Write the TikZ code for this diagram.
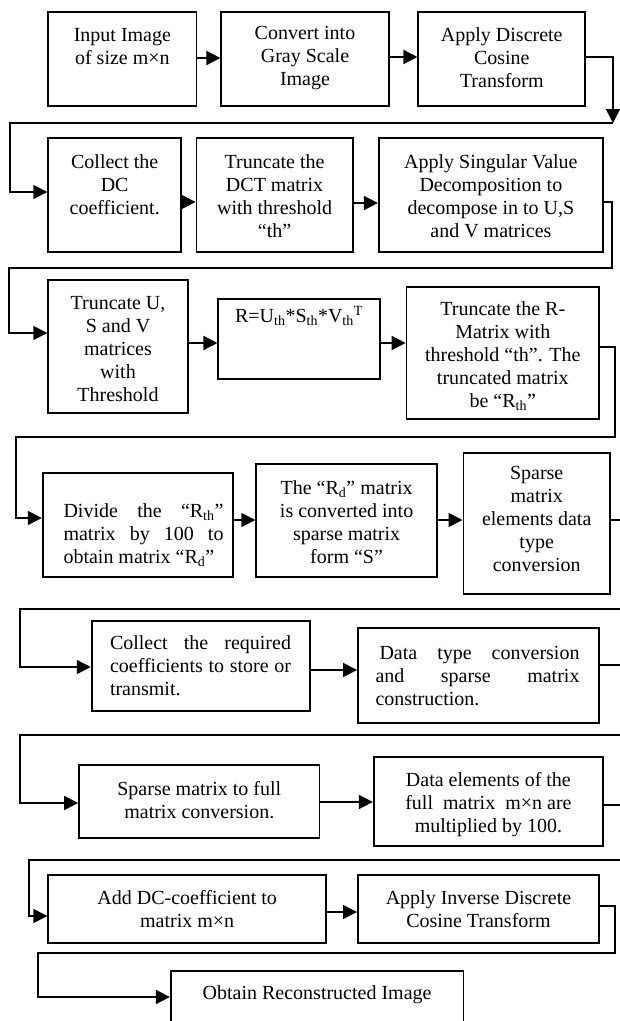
\documentclass[tikz,border=0pt]{standalone}
\usepackage{fontspec}
\setmainfont{Liberation Serif}
\usetikzlibrary{arrows.meta}
\newcommand\nohyph{\hyphenpenalty=10000 \exhyphenpenalty=10000 }
\begin{document}
\begin{tikzpicture}[x=1pt,y=-1pt,
  box/.style={draw, line width=1.8pt, inner sep=0pt},
  txt/.style={inner sep=0pt, align=center, font={\fontsize{20}{23}\selectfont}},
  jtxt/.style={inner sep=0pt, align=justify, font={\fontsize{20}{23}\selectfont}},
  conn/.style={line width=1.6pt},
  arr/.style={conn, -{Triangle[length=14pt,width=14pt]}}]
\useasboundingbox (0,0) rectangle (620,1021);
\clip (0,0) rectangle (620,1021);
\fill[white] (0,0) rectangle (620,1021);

% boxes
\node[box, minimum width=148.3pt, minimum height=94pt] (A) at (122.4,59) {};
\node[box, minimum width=167.3pt, minimum height=94pt] (B) at (305,59) {};
\node[box, minimum width=166.9pt, minimum height=94pt] (C) at (501.8,59) {};
\node[box, minimum width=132.9pt, minimum height=114pt] (D) at (114.7,195) {};
\node[box, minimum width=156.2pt, minimum height=114pt] (E) at (274.6,195) {};
\node[box, minimum width=224.2pt, minimum height=114pt] (F) at (490.9,195) {};
\node[box, minimum width=139.6pt, minimum height=133pt] (G) at (118,346.5) {};
\node[box, minimum width=161.3pt, minimum height=80pt] (H) at (299,339) {};
\node[box, minimum width=192.5pt, minimum height=132pt] (I) at (502.8,353) {};
\node[box, minimum width=190.6pt, minimum height=104pt] (J) at (138,525) {};
\node[box, minimum width=180.7pt, minimum height=113pt] (K) at (346.6,520.5) {};
\node[box, minimum width=146.6pt, minimum height=141pt] (L) at (536.7,523.5) {};
\node[box, minimum width=218.7pt, minimum height=90pt] (M) at (201,666) {};
\node[box, minimum width=241.1pt, minimum height=95pt] (N) at (478.5,675.5) {};
\node[box, minimum width=240.5pt, minimum height=73pt] (O) at (199.3,801.5) {};
\node[box, minimum width=229.3pt, minimum height=89pt] (P) at (488.4,801.5) {};
\node[box, minimum width=278pt, minimum height=68pt] (Q) at (187.2,909) {};
\node[box, minimum width=241.1pt, minimum height=68pt] (R) at (478.5,909) {};
\node[box, minimum width=292.6pt, minimum height=89pt] (S) at (317.1,1015.5) {};

% texts
\node[txt] (tA) at (122.4,47) {Input Image\\of size m×n};
\node[txt] (tB) at (305,58) {Convert into\\Gray Scale\\Image};
\node[txt] (tC) at (501.8,58) {Apply Discrete\\Cosine\\Transform};
\node[txt] (tD) at (114.7,185) {Collect the\\DC\\coefficient.};
\node[txt] (tE) at (274.6,196) {Truncate the\\DCT matrix\\with threshold\\“th”};
\node[txt] (tF) at (490.9,196) {Apply Singular Value\\Decomposition to\\decompose in to U,S\\and V matrices};
\node[txt] (tG) at (118,349) {Truncate U,\\S and V\\matrices\\with\\Threshold};
\node[txt] (tH) at (299,316) {R=U\textsubscript{th}*S\textsubscript{th}*V\textsubscript{th}\textsuperscript{T}};
\node[txt] (tI) at (502.8,356) {Truncate the R-\\Matrix with\\threshold “th”. The\\truncated matrix\\be “R\textsubscript{th}”};
\node[jtxt, text width=160pt] (tJ) at (143.5,535) {\nohyph Divide the “R\textsubscript{th}”\linebreak matrix by 100 to\linebreak obtain matrix “R\textsubscript{d}”};
\node[txt] (tK) at (346.6,522) {The “R\textsubscript{d}” matrix\\is converted into\\sparse matrix\\form “S”};
\node[txt] (tL) at (536.7,519) {Sparse\\matrix\\elements data\\type\\conversion};
\node[jtxt, text width=181pt] (tM) at (200.5,666) {\nohyph Collect the required\linebreak coefficients to store or\linebreak transmit.};
\node[jtxt, text width=204pt] (tN) at (477.5,676) {\nohyph\hspace*{4pt}Data type conversion\linebreak and sparse matrix\linebreak construction.};
\node[txt] (tO) at (199.3,800) {Sparse matrix to full\\matrix conversion.};
\node[txt] (tP) at (488.4,805) {Data elements of the\\full\ \ matrix\ \ m×n are\\multiplied by 100.};
\node[txt] (tQ) at (187.2,909.5) {Add DC-coefficient to\\matrix m×n};
\node[txt] (tR) at (478.5,909.5) {Apply Inverse Discrete\\Cosine Transform};
\node[txt] (tS) at (317.1,995) {Obtain Reconstructed Image};

% bend coordinates
\coordinate (k1) at (613,123);  \coordinate (k1l) at (10,123);
\coordinate (k2) at (612,268);  \coordinate (k2l) at (9,268);
\coordinate (k3) at (615,437);  \coordinate (k3l) at (16,437);
\coordinate (k4) at (630,609);  \coordinate (k4l) at (20,609);
\coordinate (k5) at (630,735);  \coordinate (k5l) at (20,735);
\coordinate (k6) at (630,860);  \coordinate (k6l) at (29,860);
\coordinate (k7) at (615,953);  \coordinate (k7l) at (38,953);

% row 1
\draw[arr] (A.east |- 0,58) -- (B.west |- 0,58);
\draw[arr] (B.east |- 0,57) -- (C.west |- 0,57);
\draw[arr] (C.east |- 0,57) -| (k1);
\draw[arr] (k1) -- (k1l) |- (D.west |- 0,192);
% row 2
\draw[arr] (D.east |- 0,202) -- (E.west |- 0,202);
\draw[arr] (E.east |- 0,203) -- (F.west |- 0,203);
\draw[arr] (F.east |- 0,202) -| (k2) -- (k2l) |- (G.west |- 0,333);
% row 3
\draw[arr] (G.east |- 0,343) -- (H.west |- 0,343);
\draw[arr] (H.east |- 0,343) -- (I.west |- 0,343);
\draw[arr] (I.east |- 0,347) -| (k3) -- (k3l) |- (J.west |- 0,518);
% row 4
\draw[arr] (J.east |- 0,520) -- (K.west |- 0,520);
\draw[arr] (K.east |- 0,520) -- (L.west |- 0,520);
\draw[arr] (L.east |- 0,520) -| (k4) -- (k4l) |- (M.west |- 0,667);
% row 5
\draw[arr] (M.east |- 0,670) -- (N.west |- 0,670);
\draw[arr] (N.east |- 0,665) -| (k5) -- (k5l) |- (O.west |- 0,803);
% row 6
\draw[arr] (O.east |- 0,802) -- (P.west |- 0,802);
\draw[arr] (P.east |- 0,805) -| (k6) -- (k6l) |- (Q.west |- 0,916);
% row 7
\draw[arr] (Q.east |- 0,912) -- (R.west |- 0,912);
\draw[arr] (R.east |- 0,906) -| (k7) -- (k7l) |- (S.west |- 0,997);
\end{tikzpicture}
\end{document}
